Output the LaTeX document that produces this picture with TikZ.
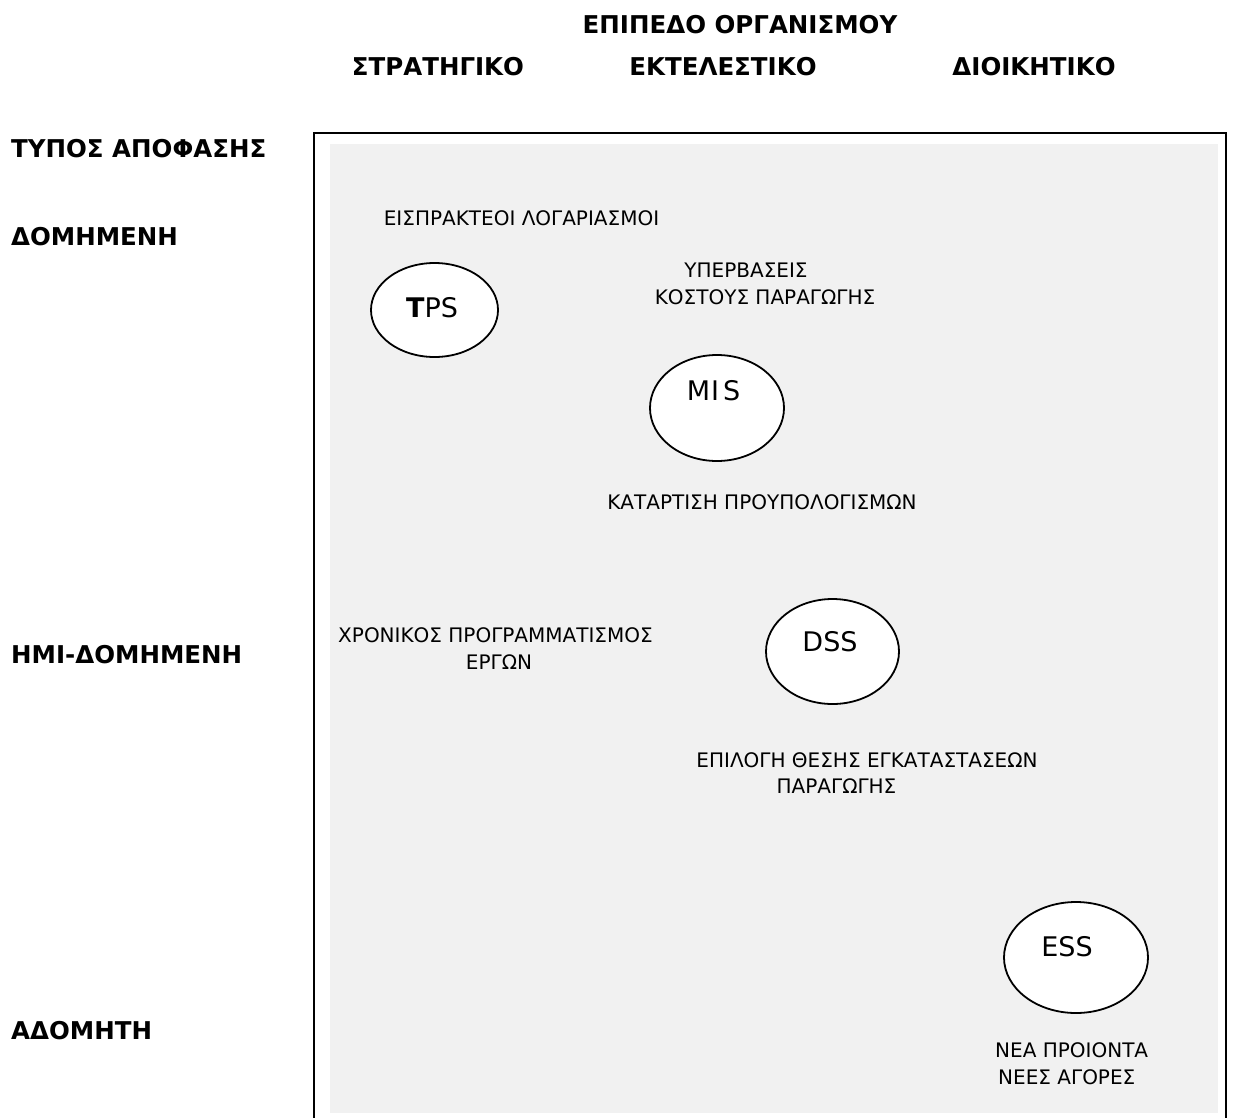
\documentclass[tikz,border=0pt]{standalone}
\usepackage{fontspec}
\setmainfont{DejaVu Sans}
\usetikzlibrary{shapes.geometric}
\definecolor{panelgrey}{RGB}{241,241,241}
\tikzset{
  head/.style={inner sep=0pt, font=\bfseries\fontsize{24.5}{28}\selectfont},
  body/.style={inner sep=0pt, font=\fontsize{20}{24}\selectfont},
  sysname/.style={inner sep=0pt, font=\fontsize{27}{30}\selectfont},
  system/.style={ellipse, draw=black, line width=1.8pt, fill=white, inner sep=0pt},
}
\begin{document}
\begin{tikzpicture}[x=1pt, y=-1pt]
  \useasboundingbox (0,0) rectangle (1237,1117);
  \clip (0,0) rectangle (1237,1117);

  % frame and shaded panel
  \draw[line width=2pt, fill=white] (314,133) rectangle (1226,1140);
  \fill[panelgrey] (330,144) rectangle (1218,1113);

  % column headings
  \node[head] (lvl) at (740,25) {ΕΠΙΠΕΔΟ ΟΡΓΑΝΙΣΜΟΥ};
  \node[head] (strat) at (438,67) {ΣΤΡΑΤΗΓΙΚΟ};
  \node[head] (exec) at (723,67) {ΕΚΤΕΛΕΣΤΙΚΟ};
  \node[head] (admin) at (1034,67) {ΔΙΟΙΚΗΤΙΚΟ};

  % row headings
  \node[head, anchor=west] (type) at (11,149) {ΤΥΠΟΣ ΑΠΟΦΑΣΗΣ};
  \node[head, anchor=west] (struct) at (11,237) {ΔΟΜΗΜΕΝΗ};
  \node[head, anchor=west] (semi) at (11,655) {ΗΜΙ-ΔΟΜΗΜΕΝΗ};
  \node[head, anchor=west] (unstruct) at (11,1031) {ΑΔΟΜΗΤΗ};

  % systems
  \node[system, minimum width=127pt, minimum height=94pt] (tps) at (434.5,310) {};
  \node[system, minimum width=134pt, minimum height=106pt] (mis) at (717,408) {};
  \node[system, minimum width=133pt, minimum height=105pt] (dss) at (832.5,651.5) {};
  \node[system, minimum width=144pt, minimum height=111pt] (ess) at (1076,957.5) {};

  \node[sysname] (tpsname) at (432,308) {\textbf{T}PS};
  \node[sysname] (misname) at (713.5,391) {M\kern1pt I\kern4pt S};
  \node[sysname] (dssname) at (830,642) {DSS};
  \node[sysname] (essname) at (1067,947) {ESS};

  % example decisions
  \node[body] (receiv) at (521.5,218.5) {ΕΙΣΠΡΑΚΤΕΟΙ ΛΟΓΑΡΙΑΣΜΟΙ};
  \node[body] (over1) at (746,270.5) {ΥΠΕΡΒΑΣΕΙΣ};
  \node[body] (over2) at (765,297.5) {ΚΟΣΤΟΥΣ ΠΑΡΑΓΩΓΗΣ};
  \node[body] (budget) at (762,502.5) {ΚΑΤΑΡΤΙΣΗ ΠΡΟΥΠΟΛΟΓΙΣΜΩΝ};
  \node[body] (sched1) at (495.5,635.5) {ΧΡΟΝΙΚΟΣ ΠΡΟΓΡΑΜΜΑΤΙΣΜΟΣ};
  \node[body] (sched2) at (499,662) {ΕΡΓΩΝ};
  \node[body] (site1) at (867,760.5) {ΕΠΙΛΟΓΗ ΘΕΣΗΣ ΕΓΚΑΤΑΣΤΑΣΕΩΝ};
  \node[body] (site2) at (836.5,786.5) {ΠΑΡΑΓΩΓΗΣ};
  \node[body, anchor=west] (new1) at (995,1050.5) {ΝΕΑ ΠΡΟΙΟΝΤΑ};
  \node[body, anchor=west] (new2) at (998,1077) {ΝΕΕΣ ΑΓΟΡΕΣ};
\end{tikzpicture}
\end{document}
